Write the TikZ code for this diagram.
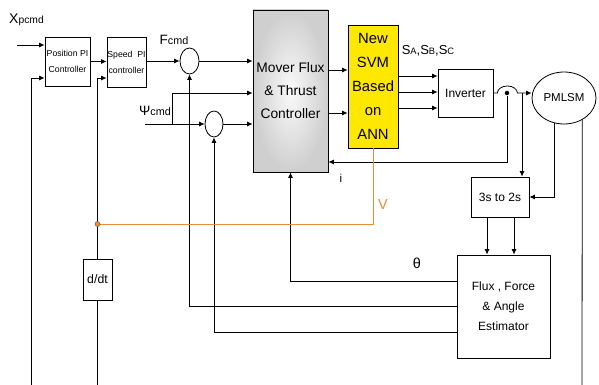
\documentclass[tikz,border=0pt]{standalone}
\usepackage{fontspec}
\setmainfont{Liberation Sans}
\usepackage{xcolor}
\usetikzlibrary{shapes.geometric,arrows.meta,positioning,calc}
\definecolor{AnnYellow}{RGB}{255,232,0}
\definecolor{VOrange}{RGB}{235,140,55}

\begin{document}
\begin{tikzpicture}[x=1pt,y=-1pt,line width=0.8pt,
  blk/.style={draw,rectangle,inner sep=0pt,align=center},
  sumc/.style={draw,ellipse,minimum width=19pt,minimum height=26pt,inner sep=0pt},
  arr/.style={-{Latex[length=5.5pt,width=5pt]}},
  fs/.style={font=\fontsize{#1}{#1}\selectfont}]
\useasboundingbox (0,0) rectangle (599,385);
% blocks
\node[blk,minimum width=45pt,minimum height=49pt,font=\fontsize{8.7}{16}\selectfont] (pos) at (67.5,61.5) {Position PI\\Controller};
\node[blk,minimum width=39pt,minimum height=50pt,font=\fontsize{8.7}{16}\selectfont] (spd) at (126.5,62) {Speed\ \ PI\\controller};
\node[sumc] (sumF) at (189.5,61) {};
\node[sumc,minimum width=18pt] (sumP) at (214,124) {};
\node[blk,minimum width=75pt,minimum height=162pt,shade,inner color=gray!4,outer color=gray!38,
  font=\fontsize{13.8}{23}\selectfont] (mov) at (290.5,91) {Mover Flux\\\& Thrust\\Controller};
\node[blk,fill=AnnYellow,minimum width=50pt,minimum height=123pt,font=\fontsize{14.8}{24}\selectfont] (ann) at (373,86.5) {New\\SVM\\Based\\on\\ANN};
\node[blk,minimum width=55pt,minimum height=48pt,fs=12] (inv) at (465.5,93) {Inverter};
\node[draw,ellipse,minimum width=64pt,minimum height=52pt,inner sep=0pt,fs=11.5] (pm) at (564,98) {PMLSM};
\node[blk,minimum width=58pt,minimum height=40pt,fs=12] (tr) at (500,197) {3s to 2s};
\node[blk,minimum width=93pt,minimum height=103pt,font=\fontsize{12}{20}\selectfont] (est) at (503.5,306.5) {Flux , Force\\\& Angle\\Estimator};
\node[blk,minimum width=29pt,minimum height=41pt,fs=12.3] (ddt) at (97.5,279.5) {d/dt};
% free ends
\coordinate (xin) at (17,45);
\coordinate (pfb) at (31,385);
\coordinate (sfb) at (97.5,385);
\coordinate (vtap) at (97.5,224);
\coordinate (psin) at (145,124);
\coordinate (psbr) at (172,124);
\coordinate (pmbr) at (522,93);
\coordinate (pmout) at (582,385);
% labels
\node[fs=14] (xlab) at (26.5,20) {X{\fontsize{10.3}{10}\selectfont pcmd}};
\node[fs=13.5] (flab) at (174,40) {F{\fontsize{10.8}{10}\selectfont cmd}};
\node[fs=13.5] (plab) at (155,111) {Ψ{\fontsize{10.8}{10}\selectfont cmd}};
\node[fs=13] (slab) at (428,51) {S{\fontsize{9.3}{9}\selectfont A},S{\fontsize{9.3}{9}\selectfont B},S{\fontsize{9.3}{9}\selectfont C}};
\node[fs=14.5,text=VOrange] (vlab) at (383,205) {V};
\node[fs=11.5] (ilab) at (341,178) {i};
\node[fs=14.5] (tlab) at (417,263) {θ};
% outer loops
\draw[arr] (xin) -- (xin -| pos.west);
\draw[arr] (pfb) |- (pos.west |- 0,78);
\draw[arr] (pos.east) -- (pos.east -| spd.west);
\draw (sfb) -- (ddt.south);
\draw[arr] (ddt.north) |- (spd.west |- 0,78);
\draw[arr] (spd.east |- sumF.west) -- (sumF.west);
\draw[arr] (sumF.east) -- (sumF.east -| mov.west);
\draw[arr] (psin) -- (sumP.west);
\draw[arr] (psbr) |- (mov.west |- 0,93);
\draw[arr] (sumP.east) -- (sumP.east -| mov.west);
% estimator feedback
\draw[arr] (est.west |- 0,306) -| (sumF.south);
\draw[arr] (est.west |- 0,332) -| (sumP.south);
\draw[arr] (est.west |- 0,281) -| (mov.south);
% forward path
\draw[arr] (mov.east |- 0,70) -- (ann.west |- 0,70);
\draw[arr] (mov.east |- 0,113) -- (ann.west |- 0,113);
\foreach \yy in {76,92,108}
  \draw[arr] (ann.east |- 0,\yy) -- (inv.west |- 0,\yy);
\draw[arr] (inv.east) -- ++(4,0) arc[start angle=180,end angle=0,x radius=10pt,y radius=7pt] -- (pm.west |- inv.east);
\node[circle,fill=black,inner sep=0pt,minimum size=4.5pt] (jdot) at (507,93) {};
\draw[arr] (jdot) |- (mov.east |- 0,162);
% measurement
\draw[arr] (pmbr) -- (pmbr |- tr.north);
\draw[arr] (pm.250) |- (tr.east);
\draw (pm.310) -- (pmout);
\draw[arr] (tr.south -| 487,0) -- (est.north -| 487,0);
\draw[arr] (tr.south -| 514,0) -- (est.north -| 514,0);
% voltage tap
\draw[VOrange] (vtap) -| (ann.south);
\node[circle,fill=VOrange,draw=black!70,line width=0.4pt,inner sep=0pt,minimum size=5pt] (vdot) at (vtap) {};
\end{tikzpicture}
\end{document}
